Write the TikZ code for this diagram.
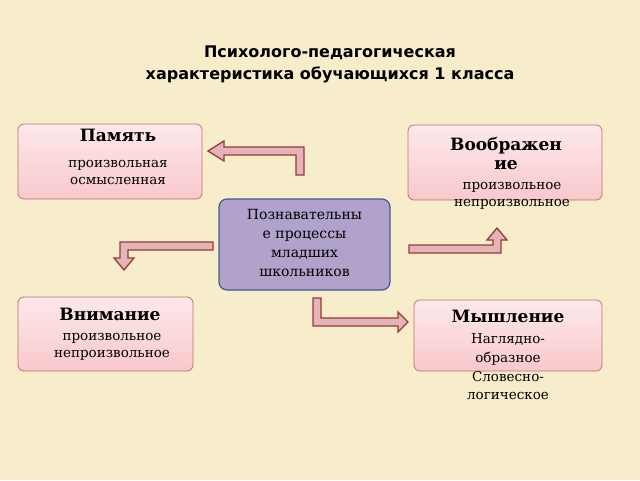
\documentclass[tikz,border=0pt]{standalone}
\usepackage{fontspec}
\setmainfont{DejaVu Serif}
\newfontfamily\titlefont{DejaVu Sans}
\usepackage{tikz}

\definecolor{bgbeige}{HTML}{F8EDCB}
\definecolor{pinkfill}{HTML}{F9C8CC}
\definecolor{pinkedge}{HTML}{C07070}
\definecolor{violetfill}{HTML}{B0A2CA}
\definecolor{violetedge}{HTML}{3C5E8C}
\definecolor{arrowfill}{HTML}{E4B4B8}
\definecolor{arrowedge}{HTML}{9A3838}

\tikzset{
    pinkbox/.style={draw=pinkedge, thick, rounded corners=6pt,
        top color=pinkfill!40, bottom color=pinkfill, inner sep=0pt},
    centrebox/.style={draw=violetedge, line width=1.2pt, rounded corners=8pt,
        fill=violetfill, inner sep=0pt},
    bentarrow/.style={draw=arrowedge, line width=1.3pt, fill=arrowfill, line join=miter},
    head/.style={font=\bfseries\fontsize{17}{18}\selectfont, align=center},
    body/.style={font=\fontsize{13.5}{17}\selectfont, align=center}
}

\begin{document}
\begin{tikzpicture}[x=1pt, y=-1pt]

        \fill[bgbeige] (0,0) rectangle (640,480);
        \useasboundingbox (0,0) rectangle (640,480);

        \node[font=\titlefont\bfseries\fontsize{16}{22}\selectfont, align=center]
            (title) at (330,64) {Психолого-педагогическая\\характеристика обучающихся 1 класса};

        % boxes
        \node[pinkbox, minimum width=184pt, minimum height=75pt] (pamyat) at (110,161.5) {};
        \node[pinkbox, minimum width=194pt, minimum height=75pt] (voobr) at (505,162.5) {};
        \node[centrebox, minimum width=171pt, minimum height=91pt] (centre) at (304.5,244.5) {};
        \node[pinkbox, minimum width=175pt, minimum height=74pt] (vniman) at (105.5,334) {};
        \node[pinkbox, minimum width=188pt, minimum height=71pt] (myshl) at (508,335.5) {};

        % texts
        \node[head] (pamyatT) at (118,135) {Память};
        \node[body] (pamyatB) at (118,172) {произвольная\\осмысленная};
        \node[head, font=\bfseries\fontsize{17}{19}\selectfont] (voobrT) at (506,154) {Воображен\\ие};
        \node[body] (voobrB) at (512,196) {произвольное\\непроизвольное};
        \node[body, font=\fontsize{14}{19}\selectfont] (centreT) at (304.5,243) {Познавательны\\е процессы\\младших\\школьников};
        \node[head] (vnimanT) at (110,314) {Внимание};
        \node[body] (vnimanB) at (112,346.5) {произвольное\\непроизвольное};
        \node[head] (myshlT) at (508,316) {Мышление};
        \node[body, font=\fontsize{13.5}{18.7}\selectfont] (myshlB) at (508,367) {Наглядно-\\образное\\Словесно-\\логическое};

        % bent arrows
        \draw[bentarrow]
            (296,175) -- (304,175) -- (304,147) -- (224,147) -- (224,141) -- (208,151)
            -- (224,161) -- (224,155) -- (296,155) -- cycle;
        \draw[bentarrow]
            (213,242) -- (213,250) -- (128,250) -- (128,258) -- (134,258) -- (124,270)
            -- (114,258) -- (120,258) -- (120,242) -- cycle;
        \draw[bentarrow]
            (409,245) -- (493,245) -- (493,240) -- (487,240) -- (497,228) -- (507,240)
            -- (501,240) -- (501,253) -- (409,253) -- cycle;
        \draw[bentarrow]
            (313,298) -- (321,298) -- (321,318) -- (398,318) -- (398,312) -- (408,322)
            -- (398,332) -- (398,326) -- (313,326) -- cycle;

    \end{tikzpicture}
\end{document}
